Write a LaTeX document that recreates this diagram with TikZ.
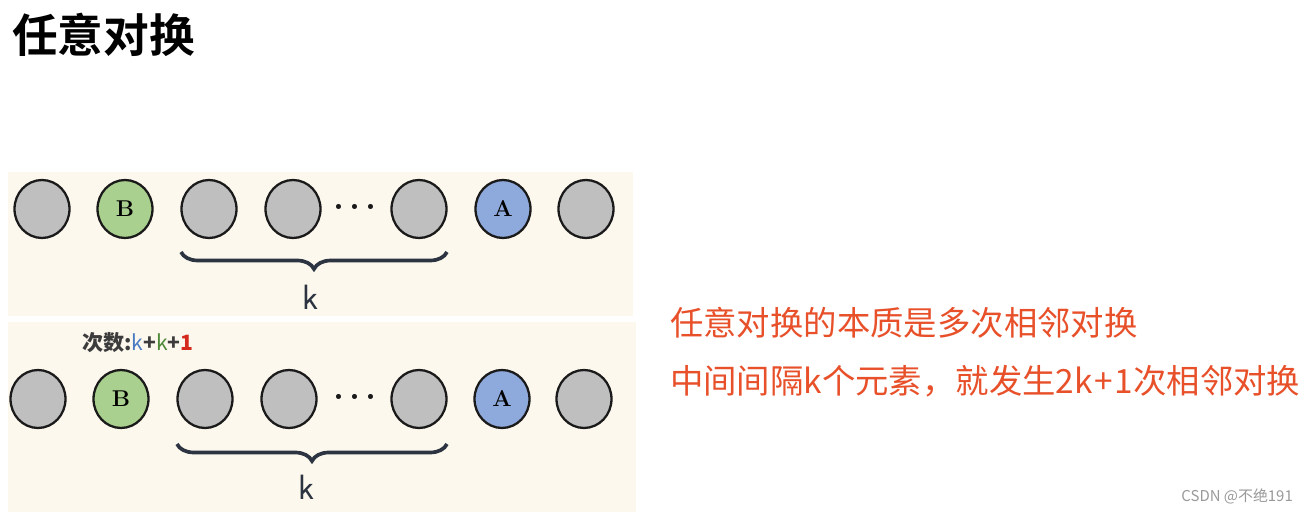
\documentclass[tikz,border=0pt]{standalone}
\usepackage{fontspec}
\newfontfamily\cjk{Noto Sans CJK SC}[BoldFont={Noto Sans CJK SC Bold}]
\newfontfamily\cjkserif{Noto Sans CJK SC}
\usetikzlibrary{decorations.pathreplacing,shapes.geometric}
\definecolor{swcream}{HTML}{FDF8EE}
\definecolor{swgray}{HTML}{BFBFBF}
\definecolor{swgreen}{HTML}{A9D08E}
\definecolor{swblue}{HTML}{8EA9DB}
\definecolor{swink}{HTML}{1A1A1A}
\definecolor{swbrace}{HTML}{2B3440}
\definecolor{swred}{HTML}{E8502A}
\definecolor{swk}{HTML}{4A7CC4}
\definecolor{swkk}{HTML}{4E8A3A}
\definecolor{swone}{HTML}{D42A1E}
\tikzset{
  sw panel/.style={draw=none, fill=swcream},
  sw ball/.style={ellipse, draw=swink, line width=1.3pt, fill=swgray,
    minimum width=11mm, minimum height=11.6mm, inner sep=0pt,
    font=\rmfamily\bfseries\fontsize{13}{13}\selectfont},
  sw brace/.style={decorate, decoration={brace, mirror, amplitude=0.34cm},
    draw=swbrace, line width=2.1pt},
  sw k/.style={font=\fontsize{20}{20}\selectfont\sffamily, text=swbrace},
  sw dots/.style={font=\fontsize{20}{20}\selectfont\bfseries, text=swink},
  sw note/.style={font=\cjk\fontsize{19}{19}\selectfont, text=swred, anchor=west}
}
\begin{document}
\begin{tikzpicture}[x=0.02cm, y=-0.02cm]
  \useasboundingbox (0,0) rectangle (1313,513);
  \fill[white] (0,0) rectangle (1313,513);
  % title
  \node[font=\cjk\bfseries\fontsize{26}{26}\selectfont, anchor=west] (title) at (6,35) {任意对换};
  % two panels
  \node[sw panel, minimum width=125mm, minimum height=28.8mm, anchor=north west] (upper) at (8,172) {};
  \node[sw panel, minimum width=125.6mm, minimum height=38mm, anchor=north west] (lower) at (8,322) {};
  % upper row
  \node[sw ball] (u1) at (42,209) {};
  \node[sw ball, fill=swgreen] (uB) at (125,209) {B};
  \node[sw ball] (u3) at (209,209) {};
  \node[sw ball] (u4) at (293,209) {};
  \node[sw dots] (udots) at (355,207) {.\kern3pt.\kern3pt.};
  \node[sw ball] (u5) at (419,209) {};
  \node[sw ball, fill=swblue] (uA) at (503,209) {A};
  \node[sw ball] (u7) at (586,209) {};
  \coordinate (ubl) at (181,252);
  \coordinate (ubr) at (447,252);
  \draw[sw brace] (ubl) -- (ubr);
  \node[sw k] (uk) at (311,297) {k};
  % lower row
  \node[font=\cjkserif\bfseries\fontsize{12}{12}\selectfont, text=swink!85, anchor=west] (count) at (76,343)
    {次数:{\mdseries\color{swk}k}+{\mdseries\color{swkk}k}+{\color{swone}1}};
  \node[sw ball] (d1) at (38,399) {};
  \node[sw ball, fill=swgreen] (dB) at (121,399) {B};
  \node[sw ball] (d3) at (205,399) {};
  \node[sw ball] (d4) at (289,399) {};
  \node[sw dots] (ddots) at (355,397) {.\kern3pt.\kern3pt.};
  \node[sw ball] (d5) at (419,399) {};
  \node[sw ball, fill=swblue] (dA) at (502,399) {A};
  \node[sw ball] (d7) at (584,399) {};
  \coordinate (dbl) at (177,444);
  \coordinate (dbr) at (447,444);
  \draw[sw brace] (dbl) -- (dbr);
  \node[sw k] (dk) at (307,487) {k};
  % explanation
  \node[sw note] (line1) at (664,323) {任意对换的本质是多次相邻对换};
  \node[sw note] (line2) at (664,381) {中间间隔k个元素，就发生2k\kern1pt+\kern1pt1次相邻对换};
  % watermark
  \node[font=\cjk\fontsize{8.5}{8.5}\selectfont, text=gray!80, anchor=east] (mark) at (1299,496) {CSDN @不绝191};
\end{tikzpicture}
\end{document}
